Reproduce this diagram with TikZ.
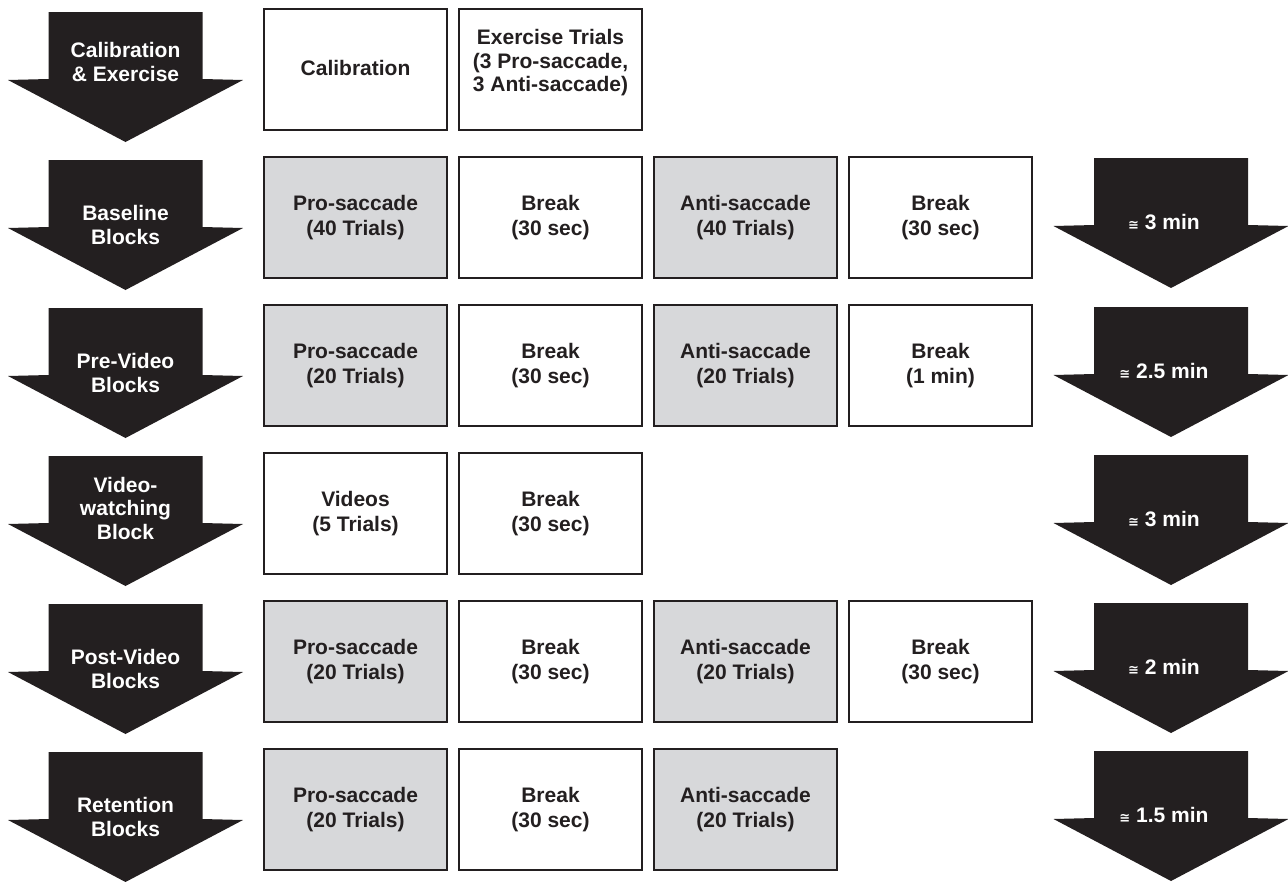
\documentclass[tikz,border=0pt]{standalone}
\usepackage{fontspec}
\setmainfont{Liberation Sans}
\newfontfamily\dvsans{DejaVu Sans}
\definecolor{inkc}{HTML}{231F20}
\definecolor{grayc}{HTML}{D7D8DA}
\newcommand\blockarrow[2]{%
  \fill[inkc] ({#1-77},{#2}) -- ({#1+77},{#2}) -- ({#1+77},{#2+67}) -- ({#1+117.5},{#2+68})
    -- ({#1},{#2+130}) -- ({#1-117.5},{#2+68}) -- ({#1-77},{#2+67}) -- cycle;}
\newcommand\approxsym{{\fontsize{13}{13}\selectfont\dvsans\bfseries ≅}}
\begin{document}
\begin{tikzpicture}[x=1pt,y=-1pt,
  box/.style={draw=inkc,line width=2.5pt,fill=white,minimum width=183pt,minimum height=121pt,
    inner sep=0pt,align=center,text=inkc,font=\fontsize{21}{24.5}\selectfont\bfseries},
  graybox/.style={box,fill=grayc},
  arrtext/.style={text=white,align=center,inner sep=0pt,font=\fontsize{21}{23.5}\selectfont\bfseries},
  timetext/.style={text=white,inner sep=0pt,font=\fontsize{21}{24}\selectfont\bfseries}]
\useasboundingbox (0,0) rectangle (1288,881);
% left arrows
\blockarrow{125.5}{12}
\blockarrow{125.5}{160}
\blockarrow{125.5}{308}
\blockarrow{125.5}{456}
\blockarrow{125.5}{604}
\blockarrow{125.5}{752}
% right arrows
\blockarrow{1171}{158}
\blockarrow{1171}{307}
\blockarrow{1171}{455}
\blockarrow{1171}{603}
\blockarrow{1171}{751}
% left arrow labels
\node[arrtext] (l1) at (125.5,62) {Calibration\\\& Exercise};
\node[arrtext] (l2) at (125.5,225) {Baseline\\Blocks};
\node[arrtext] (l3) at (125.5,373) {Pre-Video\\Blocks};
\node[arrtext] (l4) at (125.5,508) {Video-\\watching\\Block};
\node[arrtext] (l5) at (125.5,669) {Post-Video\\Blocks};
\node[arrtext] (l6) at (125.5,817) {Retention\\Blocks};
% right arrow labels
\node[timetext] (t2) at (1164,222) {\approxsym\ 3 min};
\node[timetext] (t3) at (1164,371) {\approxsym\ 2.5 min};
\node[timetext] (t4) at (1164,519) {\approxsym\ 3 min};
\node[timetext] (t5) at (1164,667) {\approxsym\ 2 min};
\node[timetext] (t6) at (1164,815) {\approxsym\ 1.5 min};
% row 1
\node[box] (b11) at (355.5,69.5) {\raisebox{3pt}{Calibration}};
\node[box] (b12) at (550.5,69.5) {\raisebox{1pt}[0pt][0pt]{\begin{tabular}{@{}c@{}}Exercise Trials\\[-1pt](3 Pro-saccade,\\[-1pt]3 Anti-saccade)\end{tabular}}};
% row 2
\node[graybox] (b21) at (355.5,217.5) {Pro-saccade\\(40 Trials)};
\node[box] (b22) at (550.5,217.5) {Break\\(30 sec)};
\node[graybox] (b23) at (745.5,217.5) {Anti-saccade\\(40 Trials)};
\node[box] (b24) at (940.5,217.5) {Break\\(30 sec)};
% row 3
\node[graybox] (b31) at (355.5,365.5) {Pro-saccade\\(20 Trials)};
\node[box] (b32) at (550.5,365.5) {Break\\(30 sec)};
\node[graybox] (b33) at (745.5,365.5) {Anti-saccade\\(20 Trials)};
\node[box] (b34) at (940.5,365.5) {Break\\(1 min)};
% row 4
\node[box] (b41) at (355.5,513.5) {Videos\\(5 Trials)};
\node[box] (b42) at (550.5,513.5) {Break\\(30 sec)};
% row 5
\node[graybox] (b51) at (355.5,661.5) {Pro-saccade\\(20 Trials)};
\node[box] (b52) at (550.5,661.5) {Break\\(30 sec)};
\node[graybox] (b53) at (745.5,661.5) {Anti-saccade\\(20 Trials)};
\node[box] (b54) at (940.5,661.5) {Break\\(30 sec)};
% row 6
\node[graybox] (b61) at (355.5,809.5) {Pro-saccade\\(20 Trials)};
\node[box] (b62) at (550.5,809.5) {Break\\(30 sec)};
\node[graybox] (b63) at (745.5,809.5) {Anti-saccade\\(20 Trials)};
\end{tikzpicture}
\end{document}
